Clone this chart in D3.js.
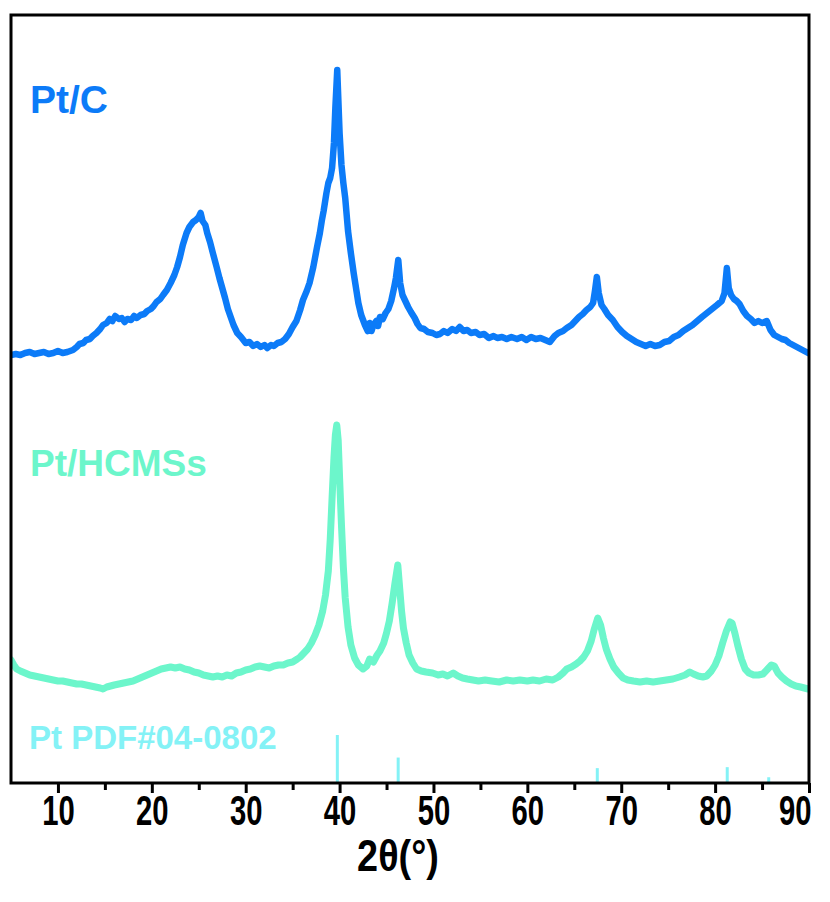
<!DOCTYPE html>
<html><head><meta charset="utf-8">
<script src="https://cdn.jsdelivr.net/npm/d3@7"></script>
<style>body{margin:0;background:#fff}svg{display:block}</style>
</head><body><svg id="c" width="830" height="902"></svg>
<script>
// ---- data ----
const ptcTheta = [5.0,5.5,6.0,6.5,7.0,7.5,8.0,8.5,9.0,9.5,10.0,10.5,11.0,11.6,12.0,12.3,12.7,13.0,13.4,13.7,14.1,14.5,14.8,15.2,15.5,15.8,16.1,16.5,16.8,17.1,17.4,17.8,18.1,18.4,18.8,19.2,19.5,19.9,20.2,20.5,20.9,21.2,21.6,22.0,22.4,22.7,23.0,23.3,23.7,24.0,24.4,24.7,25.0,25.2,25.4,25.7,25.9,26.2,26.5,26.9,27.2,27.5,27.8,28.1,28.4,28.7,29.1,29.5,30.0,30.4,30.8,31.2,31.6,32.0,32.3,32.7,33.0,33.4,33.8,34.2,34.6,35.0,35.4,35.8,36.1,36.5,36.8,37.2,37.6,37.9,38.1,38.3,38.6,38.8,39.0,39.2,39.4,39.55,39.75,39.9,40.0,40.2,40.4,40.6,40.9,41.2,41.5,41.8,42.0,42.3,42.7,43.0,43.2,43.4,43.6,43.9,44.1,44.3,44.6,44.9,45.2,45.5,45.8,46.0,46.25,46.45,46.7,47.0,47.3,47.6,48.0,48.3,48.6,49.0,49.4,49.9,50.3,50.7,51.1,51.5,52.0,52.4,52.8,53.2,53.6,54.0,54.5,54.9,55.4,55.9,56.4,56.8,57.3,57.8,58.3,58.9,59.4,59.9,60.4,60.9,61.4,61.9,62.4,62.9,63.3,63.8,64.2,64.7,65.1,65.5,65.9,66.3,66.7,67.0,67.2,67.4,67.6,67.9,68.2,68.6,69.1,69.6,70.1,70.6,71.1,71.6,72.1,72.6,73.1,73.6,74.1,74.6,75.1,75.6,76.1,76.6,77.1,77.6,78.1,78.6,79.0,79.4,79.8,80.2,80.7,81.0,81.25,81.45,81.7,82.0,82.3,82.6,83.0,83.4,83.8,84.2,84.6,85.0,85.5,85.9,86.3,86.7,87.1,87.5,87.9,88.3,88.7,89.1,89.5,89.9];
const ptcInt = [428,429,428,430,431,429,430,431,429,430,432,430,431,433,436,439,440,443,444,447,450,454,458,460,464,462,467,464,465,461,464,463,467,465,468,469,472,474,477,481,484,488,493,500,508,516,526,538,550,556,561,563,566,570,562,558,550,541,530,516,505,495,485,474,466,458,450,446,440,441,437,439,436,438,435,438,437,440,441,444,449,456,462,473,483,492,500,516,536,550,562,572,590,600,605,615,640,675,713,675,650,618,600,585,552,530,510,492,480,468,458,452,460,452,458,462,457,466,464,470,474,482,495,505,523,500,488,482,476,471,465,459,455,454,451,450,448,449,452,450,454,452,456,452,453,450,451,448,449,445,447,445,446,444,446,444,446,443,446,444,445,443,441,447,450,452,455,458,462,466,469,473,476,480,492,506,490,478,474,468,463,456,451,447,444,441,439,437,439,437,438,441,442,446,448,452,455,458,462,466,469,472,475,478,482,490,515,495,488,484,482,479,472,467,464,460,462,460,462,453,448,446,444,443,440,438,436,434,432,430];

const hcmTheta = [5.0,5.3,5.6,6.0,6.5,7.0,7.5,8.0,8.5,9.0,9.5,10.0,10.5,11.0,11.5,12.0,12.5,13.0,13.5,14.0,14.5,14.8,15.2,15.6,16.0,16.5,17.0,17.5,18.0,18.5,19.0,19.5,20.0,20.5,21.0,21.5,22.0,22.5,23.0,23.5,24.0,24.5,25.0,25.5,26.0,26.5,27.0,27.5,28.0,28.5,29.0,29.5,30.0,30.5,31.0,31.5,32.0,32.5,33.0,33.5,34.0,34.5,35.0,35.5,35.8,36.2,36.6,37.0,37.4,37.8,38.2,38.5,38.8,39.0,39.2,39.4,39.55,39.7,39.85,40.0,40.2,40.4,40.6,40.9,41.2,41.6,42.0,42.5,42.9,43.2,43.6,44.0,44.3,44.7,45.0,45.3,45.6,45.9,46.2,46.4,46.6,46.8,47.1,47.4,47.8,48.2,48.7,49.2,49.9,50.5,51.0,51.5,52.1,52.6,53.1,53.6,54.2,54.8,55.5,56.2,57.0,57.8,58.5,59.2,60.0,60.6,61.3,62.0,62.7,63.3,63.8,64.2,64.7,65.2,65.6,66.0,66.4,66.8,67.1,67.5,67.8,68.1,68.4,68.8,69.2,69.7,70.2,70.7,71.3,72.0,72.7,73.4,74.1,74.8,75.5,76.2,76.8,77.3,77.7,78.2,78.7,79.1,79.6,80.0,80.4,80.8,81.2,81.6,81.8,82.1,82.4,82.8,83.2,83.6,84.1,84.6,85.1,85.6,86.0,86.3,86.7,87.1,87.6,88.1,88.6,89.1,89.5,89.9];
const hcmInt = [123,118,114,112,110,108,107,106,105,104,103,102,102,101,100,99,99,98,97,96,95,94,96,97,98,99,100,101,102,104,106,108,110,112,114,115,116,115,116,114,113,111,110,108,107,106,107,106,108,107,110,111,113,114,116,117,116,115,117,118,118,120,121,124,126,130,134,140,148,158,172,188,212,243,285,325,348,358,343,305,258,216,185,156,138,125,118,114,117,124,121,128,132,140,150,162,180,200,218,195,172,155,140,128,120,114,112,111,110,108,109,107,110,107,105,104,103,102,103,102,101,103,102,103,102,103,102,104,103,106,110,114,116,119,122,126,132,142,153,165,158,145,134,124,116,110,105,103,102,101,102,101,102,103,104,106,108,111,109,107,106,107,112,118,127,140,152,161,160,150,138,124,114,110,108,108,109,114,118,117,110,106,102,99,97,96,95,94];

const refTheta = [39.76,46.24,67.45,81.29,85.71];
const refInt = [100,53,31,33,12];

const xTicks = [10,20,30,40,50,60,70,80,90];
const xMinor = [15,25,35,45,55,65,75,85];
const labels = {ptc:"Pt/C", hcm:"Pt/HCMSs", ref:"Pt PDF#04-0802"};
const xTitle = "2θ(°)";

// ---- drawing ----
const svg = d3.select("#c");
const L=11, R=809, T=15, B=783;
const x = d3.scaleLinear().domain([5,90]).range([L,R]);
const y = d3.scaleLinear().domain([0,768]).range([B,T]);
const yRef = d3.scaleLinear().domain([0,100]).range([B,B-48]);
const blue="#0C7BF8", aqua="#6CF6CB", cyan="#84F2F6";
const FF="Liberation Sans, Arial, sans-serif";

svg.append("clipPath").attr("id","clip").append("rect").attr("x",L).attr("y",T).attr("width",R-L).attr("height",B-T);
const g = svg.append("g").attr("clip-path","url(#clip)");

const line = d3.line().x(d=>x(d[0])).y(d=>y(d[1])).curve(d3.curveLinear);
g.append("path").datum(hcmTheta.map((t,i)=>[t,hcmInt[i]]))
 .attr("d",line).attr("fill","none").attr("stroke",aqua).attr("stroke-width",7).attr("stroke-linejoin","round").attr("stroke-linecap","round");
g.append("path").datum(ptcTheta.map((t,i)=>[t,ptcInt[i]]))
 .attr("d",line).attr("fill","none").attr("stroke",blue).attr("stroke-width",6.5).attr("stroke-linejoin","round").attr("stroke-linecap","round");

g.selectAll("line.ref").data(refTheta).enter().append("line").attr("class","ref")
 .attr("x1",d=>x(d)).attr("x2",d=>x(d)).attr("y1",B).attr("y2",(d,i)=>yRef(refInt[i]))
 .attr("stroke",cyan).attr("stroke-width",3);

// axes
const ax = svg.append("g").attr("transform",`translate(0,${B})`)
 .call(d3.axisBottom(x).tickValues(xTicks).tickSize(10).tickPadding(1).tickFormat(d3.format("d")));
ax.select(".domain").remove();
ax.selectAll(".tick line").attr("stroke","#000").attr("stroke-width",3);
ax.selectAll(".tick text").attr("font-family",FF).attr("font-weight","bold")
 .attr("font-size",43).attr("fill","#000")
 .each(function(d){const w=this.getComputedTextLength(); const s=d3.select(this).attr("textLength",w*0.68).attr("lengthAdjust","spacingAndGlyphs");
   if(d===90){s.attr("text-anchor","end").attr("x",2);} });
const axm = svg.append("g").attr("transform",`translate(0,${B})`)
 .call(d3.axisBottom(x).tickValues(xMinor).tickSize(7).tickFormat(""));
axm.select(".domain").remove();
axm.selectAll(".tick line").attr("stroke","#000").attr("stroke-width",3);

svg.append("rect").attr("x",L).attr("y",T).attr("width",R-L).attr("height",B-T)
 .attr("fill","none").attr("stroke","#000").attr("stroke-width",3);

const tt = svg.append("text").attr("x",398).attr("y",871).attr("text-anchor","middle")
 .attr("font-family",FF).attr("font-weight","bold").attr("font-size",45).text(xTitle);
const tw = tt.node().getComputedTextLength(); tt.attr("textLength",tw*0.84).attr("lengthAdjust","spacingAndGlyphs");

svg.append("text").attr("x",30).attr("y",113).attr("font-family",FF).attr("font-weight","bold").attr("font-size",39).attr("fill",blue).text(labels.ptc);
svg.append("text").attr("x",30).attr("y",476).attr("font-family",FF).attr("font-weight","bold").attr("font-size",37).attr("fill",aqua).text(labels.hcm);
svg.append("text").attr("x",29).attr("y",749).attr("font-family",FF).attr("font-weight","bold").attr("font-size",33).attr("fill",cyan).text(labels.ref);
</script></body></html>
